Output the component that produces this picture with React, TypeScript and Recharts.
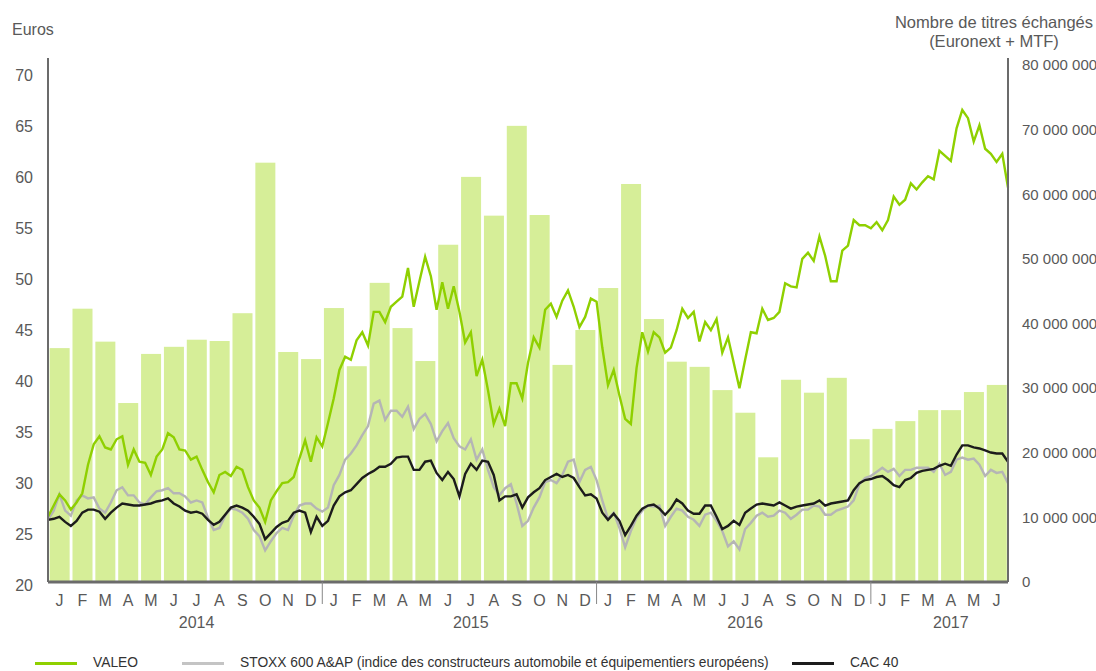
import React from 'react';
import { ComposedChart, Bar, Line, XAxis, YAxis } from 'recharts';

const monthLetters = ['J', 'F', 'M', 'A', 'M', 'J', 'J', 'A', 'S', 'O', 'N', 'D'];
const years = ['2014', '2015', '2016', '2017'];
const monthsPerYear = [12, 12, 12, 6];

// monthly volume, millions of shares (Euronext + MTF)
const volumeM = [
  36.2, 42.3, 37.2, 27.7, 35.3, 36.4, 37.5, 37.3, 41.6, 64.9, 35.6, 34.5,
  42.4, 33.4, 46.3, 39.3, 34.2, 52.2, 62.7, 56.7, 70.6, 56.8, 33.6, 39.0,
  45.5, 61.6, 40.7, 34.1, 33.3, 29.7, 26.2, 19.3, 31.3, 29.3, 31.6, 22.1,
  23.7, 24.9, 26.6, 26.6, 29.4, 30.5,
];

// weekly closes in euros, 4 per month, Jan 2014 -> end of Jun 2017
const valeo = [
  26.4, 27.5, 28.6, 28.0, 27.1, 27.8, 28.7, 31.5, 33.5, 34.3,
  33.2, 33.0, 34.0, 34.3, 31.5, 33.0, 31.8, 31.7, 30.5, 32.3,
  33.0, 34.6, 34.2, 33.0, 32.9, 32.0, 32.3, 31.0, 29.8, 28.8,
  30.5, 30.8, 30.4, 31.3, 31.0, 29.3, 28.0, 27.3, 25.9, 28.0,
  28.9, 29.7, 29.8, 30.3, 32.1, 33.9, 31.8, 34.2, 33.3, 35.6,
  38.0, 40.8, 42.1, 41.8, 43.7, 44.5, 43.2, 46.5, 46.5, 45.5,
  47.0, 47.5, 48.0, 50.8, 47.0, 49.5, 51.9, 50.0, 46.7, 49.4,
  46.8, 49.0, 46.5, 43.5, 44.5, 40.2, 41.8, 38.8, 35.5, 37.0,
  35.3, 39.5, 39.5, 38.0, 41.5, 44.0, 43.0, 46.7, 47.3, 46.0,
  47.6, 48.6, 47.0, 45.0, 46.0, 47.8, 47.5, 43.0, 39.3, 40.8,
  38.3, 36.0, 35.5, 41.0, 44.5, 42.6, 44.5, 44.0, 42.5, 43.0,
  44.7, 46.8, 45.9, 46.5, 43.6, 45.5, 44.7, 45.8, 42.5, 44.0,
  41.5, 39.0, 41.8, 44.5, 44.4, 46.8, 45.7, 45.9, 46.5, 49.3,
  49.0, 48.9, 51.7, 52.3, 51.5, 53.9, 52.0, 49.5, 49.5, 52.5,
  53.0, 55.5, 55.0, 55.0, 54.7, 55.3, 54.5, 55.5, 57.8, 57.0,
  57.5, 59.1, 58.5, 59.2, 59.8, 59.5, 62.3, 61.8, 61.3, 64.5,
  66.3, 65.5, 63.2, 64.8, 62.5, 62.0, 61.2, 62.0, 58.7,
];

const stoxx = [
  26.1, 27.0, 28.6, 27.0, 26.5, 28.0, 28.5, 28.2, 28.3, 27.2,
  26.8, 27.8, 29.0, 29.3, 28.5, 28.5, 27.8, 27.6, 28.3, 28.9,
  29.0, 29.2, 28.7, 28.7, 28.4, 27.8, 28.0, 27.8, 26.3, 25.1,
  25.3, 26.5, 27.2, 27.1, 26.8, 26.2, 25.1, 24.5, 23.1, 24.0,
  24.8, 25.3, 25.1, 26.5, 27.5, 27.7, 27.7, 27.2, 26.9, 27.3,
  29.5, 30.5, 32.0, 32.6, 33.4, 34.4, 35.3, 37.5, 37.8, 35.9,
  36.8, 36.8, 36.2, 37.2, 35.0, 36.0, 36.5, 35.5, 33.8, 34.8,
  35.6, 34.1, 33.3, 33.0, 34.0, 32.0, 33.0, 31.0, 29.3, 28.5,
  29.2, 29.6, 27.7, 25.5, 26.0, 27.3, 28.3, 29.8, 30.0, 29.7,
  30.5, 31.8, 32.0, 29.8, 31.0, 31.3, 30.0, 28.0, 26.2, 26.8,
  25.3, 23.4, 25.0, 26.3, 27.0, 27.5, 27.4, 27.5, 25.5, 26.4,
  27.2, 27.0, 26.4, 26.1, 25.5, 26.6, 26.8, 26.0, 25.0, 23.5,
  24.0, 23.2, 25.2, 25.8, 26.5, 26.8, 26.4, 26.5, 27.0, 26.8,
  26.2, 26.6, 27.1, 27.1, 27.5, 27.4, 26.6, 26.6, 27.0, 27.2,
  27.4, 28.0, 29.6, 30.2, 30.4, 30.8, 31.2, 30.8, 31.1, 30.4,
  31.0, 31.0, 31.2, 31.2, 31.2, 30.8, 31.6, 30.5, 30.8, 32.0,
  32.2, 32.0, 32.1, 31.5, 30.4, 31.0, 30.7, 30.8, 29.7,
];

const cac40 = [
  26.1, 26.2, 26.4, 25.9, 25.5, 26.0, 26.8, 27.1, 27.1, 26.9,
  26.2, 26.8, 27.3, 27.7, 27.6, 27.5, 27.5, 27.6, 27.7, 27.9,
  28.0, 28.2, 27.7, 27.4, 27.0, 26.8, 26.9, 26.7, 26.1, 25.6,
  25.9, 26.6, 27.3, 27.5, 27.3, 27.0, 26.4, 25.7, 24.2, 24.8,
  25.4, 25.8, 26.0, 26.8, 27.0, 26.8, 24.9, 26.4, 25.5, 26.0,
  27.5, 28.4, 28.8, 29.0, 29.6, 30.2, 30.6, 30.9, 31.3, 31.3,
  31.6, 32.2, 32.3, 32.3, 31.0, 31.0, 31.8, 31.9, 30.7, 30.0,
  30.8, 30.1, 28.4, 30.6, 31.6, 31.0, 31.9, 31.8, 30.5, 28.0,
  28.4, 28.4, 28.6, 27.3, 28.3, 28.8, 29.2, 30.0, 30.3, 30.6,
  30.3, 30.5, 30.2, 29.3, 28.5, 28.6, 28.2, 26.8, 26.1, 26.7,
  26.0, 24.6, 25.5, 26.5, 27.2, 27.5, 27.6, 27.2, 26.6, 27.2,
  28.1, 27.7, 27.0, 26.7, 26.7, 27.5, 27.5, 26.4, 25.2, 25.5,
  26.0, 25.6, 26.8, 27.2, 27.6, 27.7, 27.6, 27.5, 27.8, 27.5,
  27.2, 27.4, 27.5, 27.6, 27.7, 28.0, 27.5, 27.7, 27.8, 27.9,
  28.0, 29.0, 29.7, 30.0, 30.1, 30.3, 30.4, 30.0, 29.5, 29.3,
  30.0, 30.2, 30.7, 30.9, 31.0, 31.1, 31.4, 31.6, 31.4, 32.5,
  33.4, 33.4, 33.2, 33.1, 32.9, 32.7, 32.6, 32.6, 31.8,
];

const euroTicks = [20, 25, 30, 35, 40, 45, 50, 55, 60, 65, 70];
const volumeTicks = [0, 10, 20, 30, 40, 50, 60, 70, 80];

const POINTS_PER_MONTH = 4;

const monthLabels = years.flatMap((_, yi) => monthLetters.slice(0, monthsPerYear[yi]));
const monthTicks = monthLabels.map((_, i) => i + 0.5);

const data = valeo.map((v, k) => {
  const m = (k - POINTS_PER_MONTH / 2) / POINTS_PER_MONTH;
  const vol = Number.isInteger(m) && m >= 0 && m < volumeM.length ? volumeM[m] : null;
  return { t: k / POINTS_PER_MONTH, valeo: v, stoxx: stoxx[k], cac: cac40[k], vol };
});

const GREEN = '#8fd000';
const GREY = '#b5b5b5';
const BLACK = '#1c1c1c';
const BAR = '#d6ee98';
const AXIS = '#6b6b6b';
const TEXT = '#595959';
const FONT = '"Liberation Sans", Arial, sans-serif';

const PLOT_W = 960;
const MONTH_W = PLOT_W / monthLabels.length;
const BAR_W = 20;

const formatVolume = (v: number) =>
  String(Math.round(v * 1000000)).replace(/\B(?=(\d{3})+(?!\d))/g, ' ');

// numeric x axis gives a thin band, so widen each monthly bar around its centre
const MonthBar = (props: any) => {
  const { x, y, width, height, fill } = props;
  if (!height || height <= 0) return null;
  const cx = x + width / 2;
  return <rect x={cx - BAR_W / 2} y={y} width={BAR_W} height={height} fill={fill} />;
};

const MonthTick = (props: any) => {
  const { x, y, payload } = props;
  const i = Math.floor(payload.value);
  let start = 0;
  let yi = 0;
  while (yi < monthsPerYear.length && i >= start + monthsPerYear[yi]) {
    start += monthsPerYear[yi];
    yi++;
  }
  const inYear = i - start;
  const labelMonth = Math.floor(monthsPerYear[yi] / 2);
  return (
    <g>
      {inYear === 0 && i > 0 && (
        <line x1={x - MONTH_W / 2} x2={x - MONTH_W / 2} y1={y} y2={y + 22} stroke="#888" strokeWidth={1} />
      )}
      <text x={x} y={y + 24} textAnchor="middle" fill={TEXT} fontSize={16} fontFamily={FONT}>
        {monthLabels[i]}
      </text>
      {inYear === labelMonth && (
        <text x={x} y={y + 46} textAnchor="middle" fill={TEXT} fontSize={16} fontFamily={FONT}>
          {years[yi]}
        </text>
      )}
    </g>
  );
};

const legendItems = [
  { label: 'VALEO', color: GREEN, left: 35, textLeft: 93 },
  {
    label: 'STOXX 600 A&AP (indice des constructeurs automobile et équipementiers européens)',
    color: '#c4c4c4',
    left: 182,
    textLeft: 240,
  },
  { label: 'CAC 40', color: BLACK, left: 792, textLeft: 850 },
];

export default function App() {
  return (
    <div style={{ position: 'absolute', left: 0, top: 0, width: 1096, height: 671, fontFamily: FONT, background: '#fff' }}>
      <div style={{ position: 'absolute', left: 12, top: 21, fontSize: 16, color: TEXT }}>Euros</div>
      <div
        style={{
          position: 'absolute',
          left: 886,
          width: 216,
          top: 13,
          fontSize: 16.5,
          lineHeight: '19px',
          color: TEXT,
          textAlign: 'center',
        }}
      >
        Nombre de titres échangés
        <br />
        (Euronext + MTF)
      </div>

      <ComposedChart
        width={1096}
        height={671}
        data={data}
        margin={{ top: 58, right: 8, bottom: 29, left: 8 }}
      >
        <XAxis
          dataKey="t"
          type="number"
          domain={[0, monthLabels.length]}
          ticks={monthTicks}
          interval={0}
          tick={<MonthTick />}
          tickLine={false}
          tickSize={0}
          tickMargin={0}
          axisLine={{ stroke: AXIS, strokeWidth: 3 }}
          height={60}
        />
        <YAxis
          yAxisId="eur"
          domain={[20, 71.4]}
          ticks={euroTicks}
          interval={0}
          width={40}
          tickLine={false}
          tickSize={0}
          tickMargin={15}
          axisLine={{ stroke: AXIS, strokeWidth: 2 }}
          tick={{ fill: TEXT, fontSize: 16, fontFamily: FONT, dy: 3 }}
        />
        <YAxis
          yAxisId="vol"
          orientation="right"
          domain={[0, 81.1]}
          ticks={volumeTicks}
          interval={0}
          width={80}
          tickLine={false}
          tickSize={0}
          tickMargin={14}
          axisLine={{ stroke: AXIS, strokeWidth: 2 }}
          tickFormatter={formatVolume}
          tick={{ fill: TEXT, fontSize: 15, fontFamily: FONT }}
        />
        <Bar yAxisId="vol" dataKey="vol" fill={BAR} shape={<MonthBar />} isAnimationActive={false} />
        <Line yAxisId="eur" type="linear" dataKey="stoxx" stroke={GREY} strokeWidth={2.4} dot={false} isAnimationActive={false} />
        <Line yAxisId="eur" type="linear" dataKey="cac" stroke={BLACK} strokeWidth={2.4} dot={false} isAnimationActive={false} />
        <Line yAxisId="eur" type="linear" dataKey="valeo" stroke={GREEN} strokeWidth={2.4} dot={false} isAnimationActive={false} />
      </ComposedChart>

      {legendItems.map((it) => (
        <React.Fragment key={it.label}>
          <div style={{ position: 'absolute', left: it.left, top: 662, width: 42, height: 3, background: it.color }} />
          <div style={{ position: 'absolute', left: it.textLeft, top: 655, fontSize: 13.8, color: '#333', whiteSpace: 'nowrap' }}>
            {it.label}
          </div>
        </React.Fragment>
      ))}
    </div>
  );
}
